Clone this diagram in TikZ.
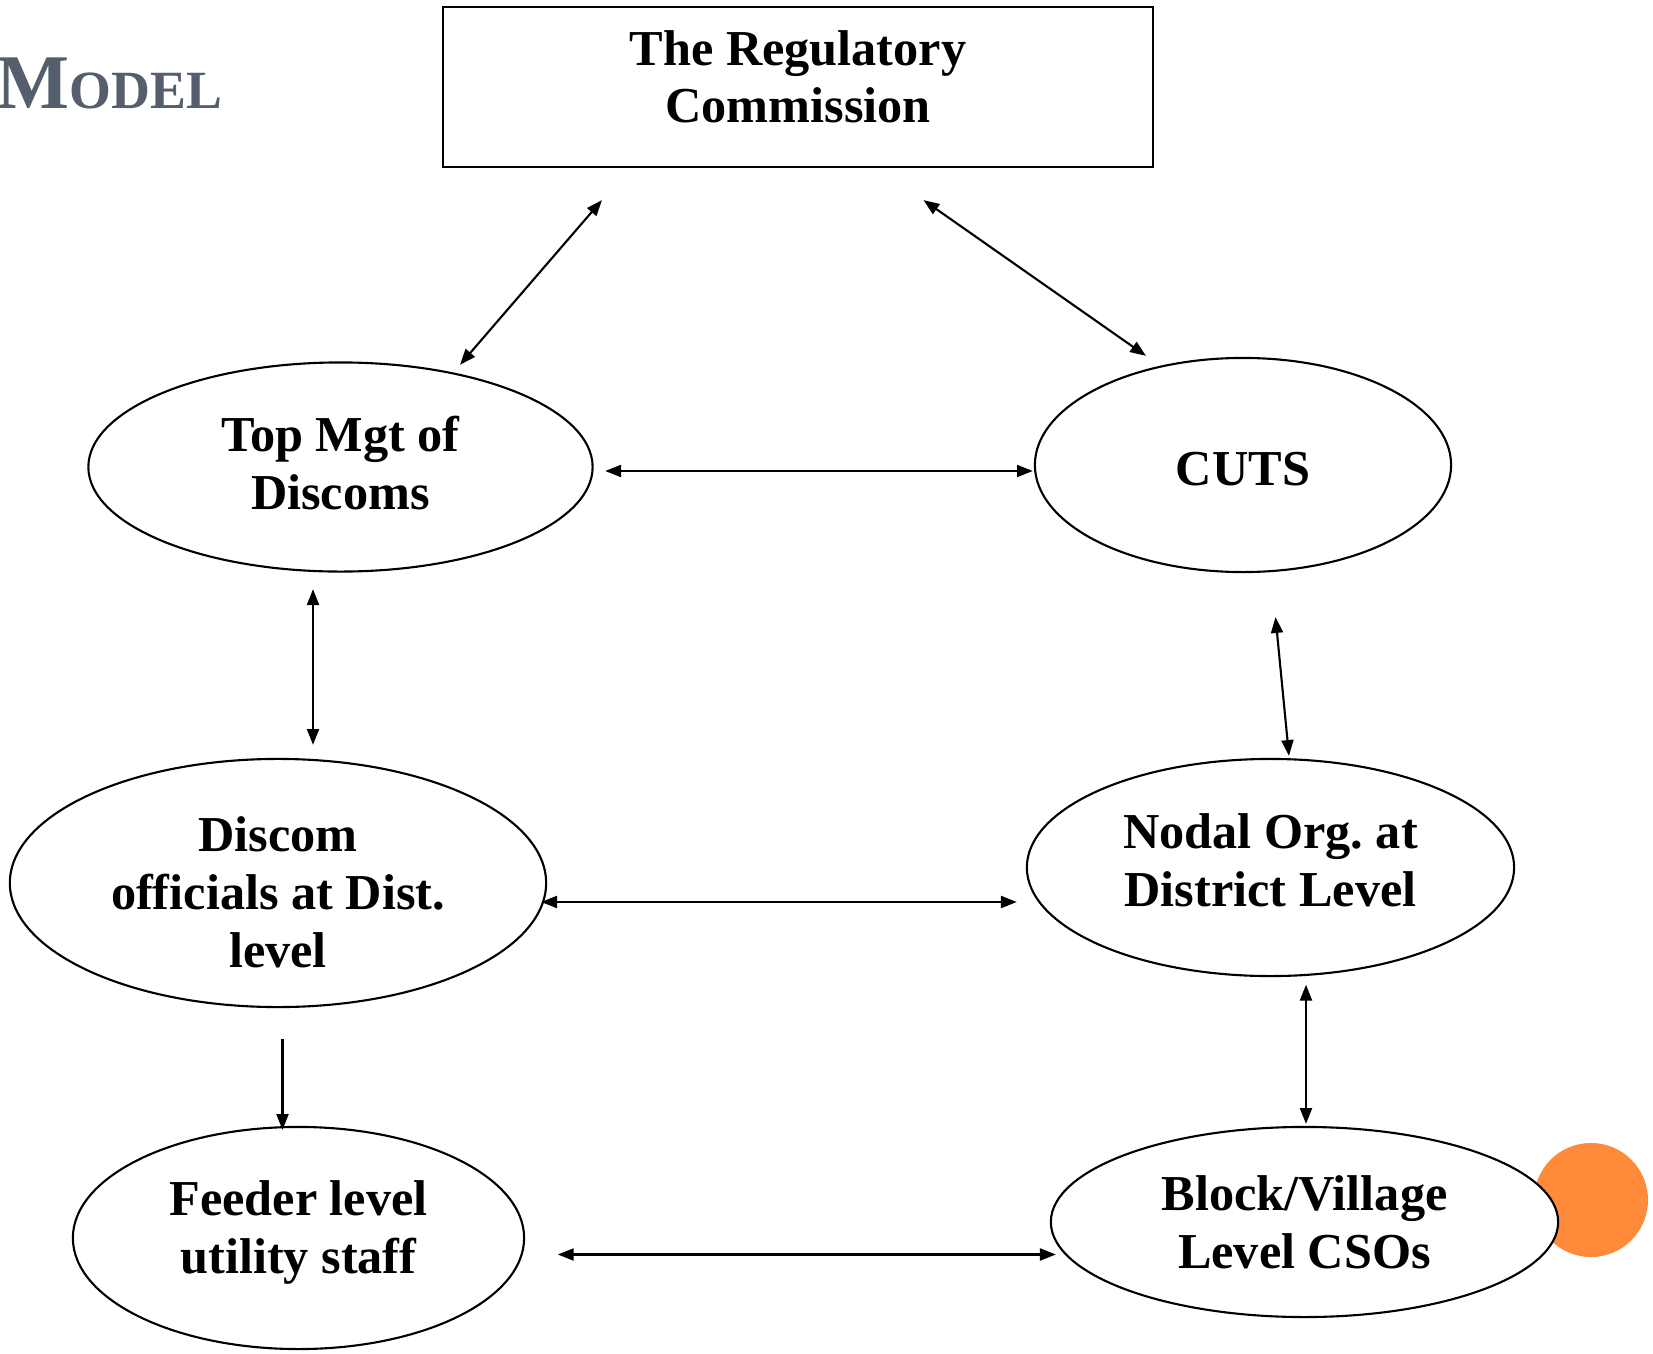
\documentclass[tikz,border=0pt]{standalone}
\usepackage{fontspec}
\setmainfont{Liberation Serif}
\usetikzlibrary{shapes.geometric,arrows.meta}
\definecolor{titlegrey}{RGB}{84,94,108}
\definecolor{dotorange}{RGB}{255,138,58}

\begin{document}
\begin{tikzpicture}[
    x=0.01cm, y=-0.01cm,
    every node/.style={font=\bfseries\fontsize{14.3}{16.4}\selectfont, align=center},
    oval/.style={ellipse, draw, fill=white, line width=0.6pt, inner sep=0pt},
    link/.style={line width=0.6pt, {Triangle[length=4.5pt,width=3.4pt]}-{Triangle[length=4.5pt,width=3.4pt]}},
    oneway/.style={line width=0.6pt, -{Triangle[length=4.5pt,width=3.4pt]}}
]
\useasboundingbox (0,0) rectangle (1653,1354);

% slide title, cut at the left edge
\node[anchor=base west, text=titlegrey, inner sep=0pt] (title) at (-4,108.6)
    {{\fontsize{22}{22}\selectfont M}{\fontsize{15.3}{15.3}\selectfont ODEL}};

\fill[dotorange] (1591,1200) circle (0.57cm);

\node[draw, line width=0.6pt, minimum width=7.1cm, minimum height=1.6cm, inner sep=0pt, text depth=6pt] (reg) at (798,87) {The Regulatory\\Commission};

\node[oval, minimum width=5.04cm, minimum height=2.09cm, text depth=2.4pt] (topmgt) at (340.5,467) {Top Mgt of\\Discoms};
\node[oval, minimum width=4.16cm, minimum height=2.14cm, text height=11.8pt, text depth=0pt] (cuts) at (1243,465) {CUTS};
\node[oval, minimum width=5.36cm, minimum height=2.48cm, text height=47.9pt, text depth=0pt] (distoff) at (278,883) {Discom\\officials at Dist.\\level};
\node[oval, minimum width=4.87cm, minimum height=2.17cm, text depth=4.2pt] (nodal) at (1270.5,867.5) {Nodal Org.\ at\\District Level};
\node[oval, minimum width=4.51cm, minimum height=2.22cm, text depth=6.1pt] (feeder) at (298.5,1238) {Feeder level\\utility staff};
\node[oval, minimum width=5.07cm, minimum height=1.90cm] (block) at (1304.5,1222) {Block/Village\\Level CSOs};

% links
\draw[link] ([shift={(-196,32)}]reg.south) -- ([shift={(119.5,3.4)}]topmgt.north);
\draw[link] ([shift={(125.5,32)}]reg.south) -- ([shift={(-97,-1)}]cuts.north);
\draw[link] ([shift={(11.5,4)}]topmgt.east) -- ([shift={(-1,6)}]cuts.west);
\draw[link] ([shift={(-27.5,16.6)}]topmgt.south) -- ([shift={(35,-13)}]distoff.north);
\draw[link] ([shift={(32.5,44)}]cuts.south) -- ([shift={(18.5,-2)}]nodal.north);
\draw[link] ([shift={(-6,19)}]distoff.east) -- ([shift={(-9,34.5)}]nodal.west);
\draw[link] ([shift={(35.5,7.6)}]nodal.south) -- ([shift={(1.5,-2)}]block.north);
\draw[oneway] ([shift={(4.5,31)}]distoff.south) -- ([shift={(-16,4)}]feeder.north);
\draw[link] ([shift={(32.6,16.5)}]feeder.east) -- ([shift={(6,32.5)}]block.west);

\end{tikzpicture}
\end{document}
